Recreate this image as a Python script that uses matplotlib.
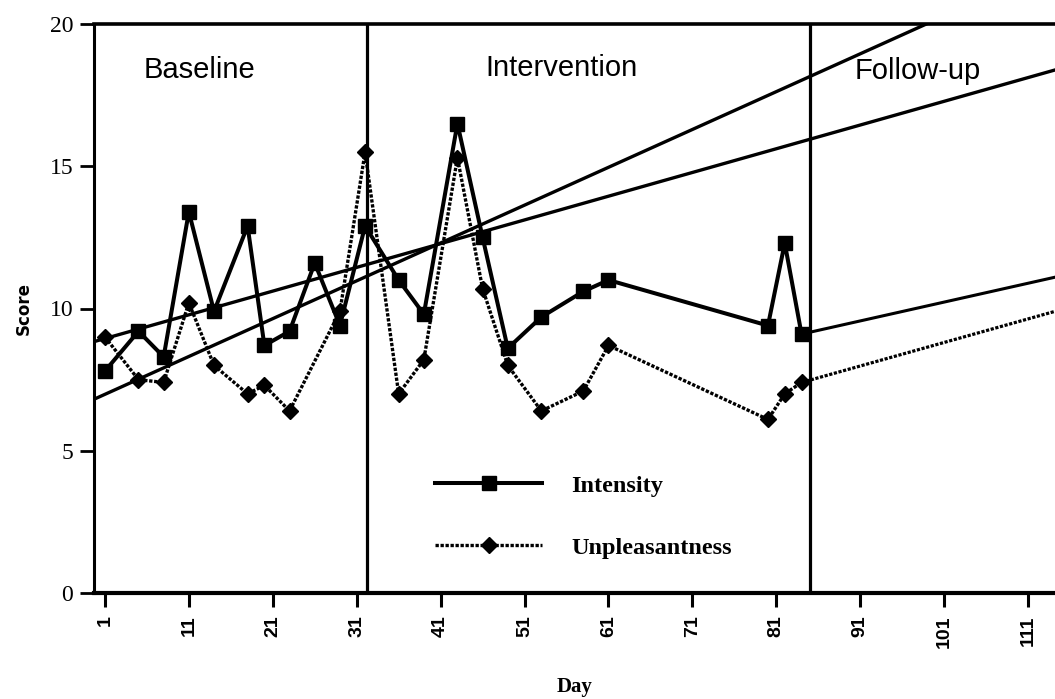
import numpy as np
import matplotlib.pyplot as plt

# daily ratings
days = [1, 5, 8, 11, 14, 18, 20, 23, 26, 29, 32, 36, 39, 43, 46, 49, 53, 58, 61, 80, 82, 84]
intensity = [7.8, 9.2, 8.3, 13.4, 9.9, 12.9, 8.7, 9.2, 11.6, 9.4, 12.9,
             11.0, 9.8, 16.5, 12.5, 8.6, 9.7, 10.6, 11.0, 9.4, 12.3, 9.1]
# day 26 has no unpleasantness rating
unp_days = [1, 5, 8, 11, 14, 18, 20, 23, 29, 32, 36, 39, 43, 46, 49, 53, 58, 61, 80, 82, 84]
unpleasantness = [9.0, 7.5, 7.4, 10.2, 8.0, 7.0, 7.3, 6.4, 9.9, 15.5,
                  7.0, 8.2, 15.3, 10.7, 8.0, 6.4, 7.1, 8.7, 6.1, 7.0, 7.4]

# baseline trend lines (value at day 0, slope per day)
trend_a = (8.86, 0.0834)
trend_b = (6.85, 0.133)

# follow-up projection
followup_days = [84, 114.2]
followup_intensity = [9.1, 11.1]
followup_unpleasantness = [7.4, 9.9]

phase_changes = [32.2, 85]
phases = ['Baseline', 'Intervention', 'Follow-up']
phase_label_x = [12.3, 55.4, 97.9]
phase_label_y = [18.1, 18.17, 18.05]

xticks = np.arange(1, 112, 10)
yticks = [0, 5, 10, 15, 20]

fig = plt.figure(figsize=(10.55, 6.99), dpi=100)
ax = fig.add_axes([94 / 1055, 1 - 593 / 699, 961 / 1055, 569 / 699])
ax.set_xlim(-0.3, 114.2)
ax.set_ylim(0, 20)

xs = np.array([-0.3, 114.2])
for b0, b1 in (trend_a, trend_b):
    ax.plot(xs, b0 + b1 * xs, color='black', lw=2.4, zorder=2)

ax.plot(followup_days, followup_intensity, color='black', lw=2.2, zorder=2)
ax.plot(followup_days, followup_unpleasantness, color='black', lw=2.3,
        ls=(0, (1, 0.5)), zorder=2)

l_unp, = ax.plot(unp_days, unpleasantness, color='black', lw=2.4, ls=(0, (1, 0.5)),
                 marker='D', ms=8.5, zorder=3)
l_int, = ax.plot(days, intensity, color='black', lw=2.9, marker='s', ms=10, zorder=4)

for x in phase_changes:
    ax.axvline(x, color='black', lw=2.3, zorder=1)

for name, x, y in zip(phases, phase_label_x, phase_label_y):
    ax.text(x, y, name, ha='center', va='baseline', fontsize=21,
            family='Liberation Sans')

ax.legend([l_int, l_unp], ['Intensity', 'Unpleasantness'], frameon=False,
          loc='upper left', bbox_to_anchor=(0.355, 0.208), borderpad=0,
          borderaxespad=0, handlelength=4.4, handletextpad=1.2,
          labelspacing=1.65, numpoints=1,
          prop={'family': 'Liberation Serif', 'size': 17.5, 'weight': 'bold'})

ax.spines['right'].set_visible(False)
ax.spines['left'].set_linewidth(2.2)
ax.spines['bottom'].set_linewidth(3)
ax.spines['top'].set_linewidth(2.6)

ax.set_xticks(xticks)
ax.set_xticklabels([str(t) for t in xticks], rotation=90, fontsize=14,
                   fontweight='bold', family='Liberation Sans')
ax.set_yticks(yticks)
ax.set_yticklabels([str(t) for t in yticks], fontsize=17, family='Liberation Serif')
ax.tick_params(axis='x', direction='out', length=10, width=2.2, pad=6)
ax.tick_params(axis='y', direction='out', length=10, width=2, pad=5)

ax.set_ylabel('Score', fontsize=12, fontweight='bold', family='DejaVu Sans', labelpad=12)
ax.set_xlabel('Day', fontsize=15, fontweight='bold', family='Liberation Serif', labelpad=21)

fig.savefig('out.png', dpi=100)
